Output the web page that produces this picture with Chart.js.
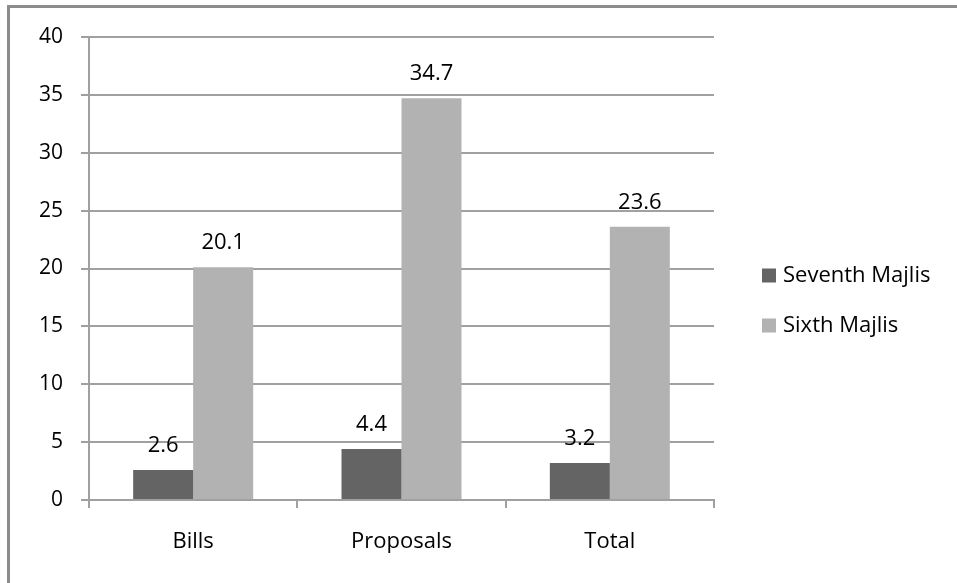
<!DOCTYPE html>
<html>
<head>
<meta charset="utf-8">
<script src="https://cdn.jsdelivr.net/npm/chart.js@4/dist/chart.umd.min.js"></script>
<style>
  html, body { margin: 0; padding: 0; background: #fff; }
  #wrap { position: relative; width: 957px; height: 583px; }
  #frame { position: absolute; left: 7px; top: 5px; right: -10px; bottom: -10px;
           border-left: 3px solid #8c8c8c; border-top: 3px solid #8c8c8c; }
  canvas { position: absolute; left: 0; top: 0; }
</style>
</head>
<body>
<div id="wrap">
  <div id="frame"></div>
  <canvas id="c" width="957" height="583"></canvas>
</div>
<script>
const categories = ['Bills', 'Proposals', 'Total'];
const seventhMajlis = [2.6, 4.4, 3.2];
const sixthMajlis = [20.1, 34.7, 23.6];
const seriesNames = ['Seventh Majlis', 'Sixth Majlis'];
const yTicks = [0, 5, 10, 15, 20, 25, 30, 35, 40];

const FONT = '"Open Sans", Lato, sans-serif';
const TEXT = '#000';
const GRID = '#a0a0a0';

// Value labels above each bar
const valueLabels = {
  id: 'valueLabels',
  afterDatasetsDraw(chart) {
    const ctx = chart.ctx;
    ctx.save();
    ctx.font = '22px ' + FONT;
    ctx.fillStyle = TEXT;
    ctx.textAlign = 'center';
    ctx.textBaseline = 'alphabetic';
    chart.data.datasets.forEach((ds, i) => {
      chart.getDatasetMeta(i).data.forEach((bar, j) => {
        ctx.fillText(ds.data[j].toFixed(1), bar.x, bar.y - 18);
      });
    });
    ctx.restore();
  }
};

// Legend drawn to the right of the plot area
const sideLegend = {
  id: 'sideLegend',
  afterDraw(chart) {
    const ctx = chart.ctx;
    const area = chart.chartArea;
    const x = area.right + 48;
    const yMid = (area.top + area.bottom) / 2 + 32;
    const rowGap = 50;
    const n = chart.data.datasets.length;
    ctx.save();
    ctx.font = '22px ' + FONT;
    ctx.textBaseline = 'middle';
    ctx.textAlign = 'left';
    chart.data.datasets.forEach((ds, i) => {
      const y = yMid + (i - (n - 1) / 2) * rowGap;
      ctx.fillStyle = ds.backgroundColor;
      ctx.fillRect(x, y - 7, 14, 14);
      ctx.fillStyle = TEXT;
      ctx.fillText(ds.label, x + 21, y);
    });
    ctx.restore();
  }
};

new Chart(document.getElementById('c'), {
  type: 'bar',
  data: {
    labels: categories,
    datasets: [
      { label: seriesNames[0], data: seventhMajlis, backgroundColor: '#646464' },
      { label: seriesNames[1], data: sixthMajlis, backgroundColor: '#b2b2b2' }
    ]
  },
  options: {
    responsive: false,
    animation: false,
    events: [],
    layout: { padding: { left: 0, top: 37, right: 243, bottom: 0 } },
    datasets: { bar: { categoryPercentage: 0.576, barPercentage: 1.0 } },
    plugins: { legend: { display: false }, tooltip: { enabled: false } },
    scales: {
      x: {
        afterFit(s) { s.height = 83; },
        grid: { offset: true, drawOnChartArea: false, color: GRID, lineWidth: 2, tickLength: 8 },
        border: { color: GRID, width: 2 },
        ticks: { color: TEXT, font: { family: FONT, size: 22 }, padding: 21 }
      },
      y: {
        min: 0, max: 40,
        afterFit(s) { s.width = 89; },
        afterBuildTicks(s) { s.ticks = yTicks.map(v => ({ value: v })); },
        grid: { color: GRID, lineWidth: 2, tickLength: 8 },
        border: { color: GRID, width: 2 },
        ticks: { color: TEXT, font: { family: FONT, size: 21 }, padding: 18 }
      }
    }
  },
  plugins: [valueLabels, sideLegend]
});
</script>
</body>
</html>
